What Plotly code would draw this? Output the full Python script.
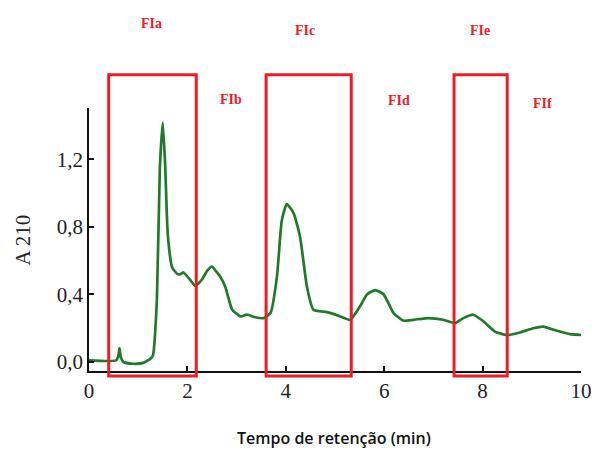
import plotly.graph_objects as go

# Chromatogram (retention time in min, absorbance at 210 nm)
time_min = [0.0, 0.55, 0.60, 0.62, 0.645, 0.70, 0.90, 1.10, 1.25, 1.30, 1.38, 1.44, 1.50,
            1.55, 1.60, 1.69, 1.80, 1.86, 1.92, 2.06, 2.16, 2.30, 2.40, 2.50, 2.60, 2.67,
            2.77, 2.91, 3.08, 3.21, 3.38, 3.55, 3.69, 3.82, 3.92, 4.02, 4.16, 4.29, 4.43,
            4.56, 4.84, 5.11, 5.31, 5.51, 5.65, 5.82, 5.99, 6.19, 6.39, 6.60, 6.90, 7.20,
            7.44, 7.61, 7.81, 8.02, 8.25, 8.49, 8.76, 9.03, 9.23, 9.51, 9.78, 10.0]
absorbance = [0.01, 0.01, 0.04, 0.083, 0.03, 0.0, -0.01, -0.005, 0.02, 0.04, 0.37, 1.15, 1.416,
              1.15, 0.76, 0.56, 0.52, 0.52, 0.53, 0.485, 0.45, 0.49, 0.54, 0.565, 0.53, 0.505,
              0.445, 0.31, 0.27, 0.28, 0.265, 0.26, 0.29, 0.505, 0.84, 0.935, 0.88, 0.74, 0.445,
              0.31, 0.295, 0.27, 0.25, 0.33, 0.40, 0.426, 0.40, 0.29, 0.245, 0.25, 0.26, 0.25,
              0.23, 0.26, 0.28, 0.24, 0.18, 0.16, 0.175, 0.20, 0.21, 0.185, 0.165, 0.16]

# Collected fractions (boxes) and fraction labels
box_names = ["FIa", "FIc", "FIe"]
box_start = [0.40, 3.60, 7.42]
box_end = [2.18, 5.33, 8.50]
box_top = 1.70
box_bottom = -0.083

label_names = ["FIa", "FIb", "FIc", "FId", "FIe", "FIf"]
label_x = [1.27, 2.89, 4.38, 6.30, 7.95, 9.21]
label_y = [1.323, 1.034, 1.293, 1.03, 1.293, 1.019]  # paper coords

x_ticks = [0, 2, 4, 6, 8, 10]
y_ticks = [0.0, 0.4, 0.8, 1.2]
x_range = [0, 10]
y_range = [-0.053, 1.503]

def to_paper(v):
    return (v - y_range[0]) / (y_range[1] - y_range[0])

fig = go.Figure()
fig.add_trace(go.Scatter(x=time_min, y=absorbance, mode="lines",
                         line=dict(color="#1f7a2a", width=2.7, shape="spline", smoothing=0.5),
                         showlegend=False, hoverinfo="skip", cliponaxis=False))

for s, e in zip(box_start, box_end):
    fig.add_shape(type="rect", xref="x", yref="paper", x0=s, x1=e,
                  y0=to_paper(box_bottom), y1=to_paper(box_top),
                  line=dict(color="#ee1c25", width=3), fillcolor="rgba(0,0,0,0)", layer="above")

for name, lx, ly in zip(label_names, label_x, label_y):
    fig.add_annotation(text=name, x=lx, y=ly, xref="x", yref="paper", showarrow=False,
                       font=dict(family="Liberation Serif", size=14, color="#ee1c25", weight="bold"),
                       xanchor="center", yanchor="middle")

fig.add_annotation(text="A 210", x=-0.135, y=0.498, xref="paper", yref="paper", showarrow=False,
                   textangle=-90, font=dict(family="Liberation Serif", size=21, color="#222"),
                   xanchor="center", yanchor="middle")
fig.add_annotation(text="Tempo de retenção (min)", x=0.498, y=-0.255, xref="paper", yref="paper",
                   showarrow=False, font=dict(family="Open Sans", size=16, color="#111", weight=600),
                   xanchor="center", yanchor="middle")

fig.update_layout(
    width=594, height=452, autosize=False,
    margin=dict(l=88.5, r=13, t=108, b=81, pad=0, autoexpand=False),
    paper_bgcolor="white", plot_bgcolor="white",
    separators=",.",
    font=dict(family="Liberation Serif", size=21, color="#222"),
)
fig.update_xaxes(range=x_range, tickvals=x_ticks, ticks="inside", ticklen=5, tickwidth=1.5,
                 tickcolor="#111", showline=True, linecolor="#111", linewidth=1.8, automargin=False,
                 showgrid=False, zeroline=False, tickfont=dict(family="Liberation Serif", size=21))
fig.update_yaxes(range=y_range, tickvals=y_ticks, tickformat=".1f", ticks="inside", ticklen=5,
                 tickwidth=1.5, tickcolor="#111", showline=True, linecolor="#111", linewidth=1.8,
                 automargin=False,
                 showgrid=False, zeroline=False, tickfont=dict(family="Liberation Serif", size=21))

fig.write_html("out.html",
               config={"responsive": False, "displayModeBar": False},
               post_script="document.body.style.margin='0px';document.body.style.overflow='hidden';")
